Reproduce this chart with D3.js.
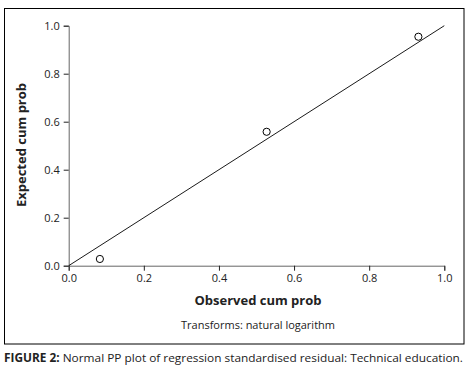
<!DOCTYPE html>
<html><head><meta charset="utf-8">
<script src="https://cdn.jsdelivr.net/npm/d3@7"></script>
<style>body{margin:0;background:#fff}svg{display:block}text{font-family:"Open Sans",sans-serif}</style>
</head><body>
<script>
const observed = [0.083, 0.527, 0.931];
const expected = [0.028, 0.558, 0.954];
const refLine = [0, 1];
const ticks = [0, 0.2, 0.4, 0.6, 0.8, 1.0];

const W = 474, H = 377;
const svg = d3.select("body").append("svg").attr("width", W).attr("height", H);
svg.append("rect").attr("x", 4.5).attr("y", 8.5).attr("width", 459.5).attr("height", 335.5)
  .attr("fill", "none").attr("stroke", "#000").attr("stroke-width", 1);

const x = d3.scaleLinear().domain([0, 1]).range([68.7, 444.3]);
const y = d3.scaleLinear().domain([0, 1]).range([265.7, 25.7]);

const xAxis = svg.append("g").attr("transform", `translate(0,${y(0)})`)
  .call(d3.axisBottom(x).tickValues(ticks).tickFormat(d3.format(".1f")).tickSize(5).tickPadding(4));
const yAxis = svg.append("g").attr("transform", `translate(${x(0)},0)`)
  .call(d3.axisLeft(y).tickValues(ticks).tickFormat(d3.format(".1f")).tickSize(5).tickPadding(4));
[xAxis, yAxis].forEach(g => {
  g.select(".domain").attr("stroke", "#666");
  g.selectAll(".tick line").attr("stroke", "#222");
  g.selectAll("text").attr("font-size", 11).attr("fill", "#222").attr("font-family", "Open Sans");
});

svg.append("line").attr("x1", x(refLine[0])).attr("y1", y(refLine[0]))
  .attr("x2", x(refLine[1])).attr("y2", y(refLine[1])).attr("stroke", "#000").attr("stroke-width", 0.9);

svg.selectAll("circle.pt").data(observed.map((o, i) => [o, expected[i]])).enter()
  .append("circle").attr("class", "pt").attr("cx", d => x(d[0])).attr("cy", d => y(d[1]))
  .attr("r", 3.6).attr("fill", "#fff").attr("stroke", "#000").attr("stroke-width", 1);

svg.append("text").attr("x", 258).attr("y", 305).attr("text-anchor", "middle")
  .attr("font-size", 13).attr("font-weight", "bold").attr("fill", "#222").text("Observed cum prob");
svg.append("text").attr("transform", "translate(26,145) rotate(-90)").attr("text-anchor", "middle")
  .attr("font-size", 13).attr("font-weight", "bold").attr("fill", "#222").text("Expected cum prob");
svg.append("text").attr("x", 258).attr("y", 329).attr("text-anchor", "middle")
  .attr("font-size", 11).attr("fill", "#222").text("Transforms: natural logarithm");

const cap = svg.append("text").attr("x", 4).attr("y", 362).attr("font-size", 11.5).attr("fill", "#222")
  .attr("textLength", 459).attr("lengthAdjust", "spacingAndGlyphs");
cap.append("tspan").attr("font-weight", "bold").text("FIGURE 2:");
cap.append("tspan").text(" Normal PP plot of regression standardised residual: Technical education.");
</script>
</body></html>
